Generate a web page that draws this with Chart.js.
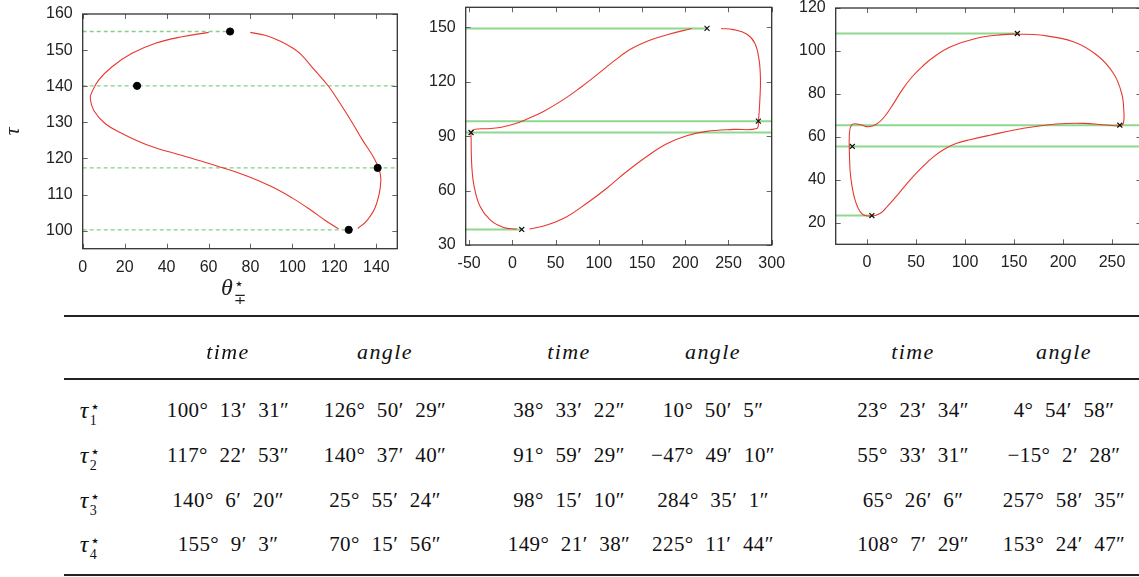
<!DOCTYPE html>
<html>
<head>
<meta charset="utf-8">
<script src="https://cdn.jsdelivr.net/npm/chart.js@4.4.1/dist/chart.umd.min.js"></script>
<style>
  html, body { margin: 0; padding: 0; background: #fff; }
  body { position: relative; width: 1139px; height: 577px; overflow: hidden; }
  canvas { position: absolute; }
  .rule { position: absolute; left: 64px; width: 1075px; height: 2px; background: #222; }
  .cell { position: absolute; transform: translate(-50%, -50%); white-space: nowrap;
          font-family: 'Liberation Serif', 'DejaVu Serif', serif; font-size: 21px; color: #111;
          word-spacing: 6px; letter-spacing: 0.4px; }
  .head { font-style: italic; font-size: 22px; letter-spacing: 1.4px; }
  .tau { font-style: italic; font-size: 24px; }
  .ss { display: inline-block; vertical-align: -7px; line-height: 13px; font-size: 14px; font-style: normal; margin-left: 1px; word-spacing: 0; }
  .ss .st { font-size: 16px; }
  .xlab { position: absolute; left: 221px; top: 274px; font-family: 'Liberation Serif', 'DejaVu Serif', serif; font-style: italic; font-size: 24px; color: #222; }
  .xlab .ss { font-size: 15px; line-height: 15px; vertical-align: -9px; }
</style>
</head>
<body>
<canvas id="plot-a" width="420" height="300" style="left:0;top:0"></canvas>
<canvas id="plot-b" width="390" height="300" style="left:420px;top:0"></canvas>
<canvas id="plot-c" width="370" height="300" style="left:780px;top:0"></canvas>
<div class="xlab">θ<span class="ss"><span class="st">⋆</span><br>∓</span></div>
<div id="table"></div>

<script>
document.addEventListener('DOMContentLoaded', () => {

    if (typeof Chart === 'undefined') {
        console.error('Chart.js not loaded');
        return;
    }

    // ---------- plot A: tau vs theta ----------
    const aTicksX = [0, 20, 40, 60, 80, 100, 120, 140];
    const aTicksY = [100, 110, 120, 130, 140, 150, 160];
    const aMarkX = [126.84, 140.63, 25.92, 70.27];
    const aMarkY = [100.23, 117.38, 140.11, 155.15];
    const aUpperX = [60.1, 47.4, 34.7, 23.5, 14, 7.6, 4.4, 3.6, 5.3, 10.8, 18.8, 31.5, 47.4, 64, 78, 90, 100, 108.5, 115.5, 122];
    const aUpperY = [154.9, 153.7, 151.9, 149.1, 145.4, 141.7, 138.4, 136.6, 133.3, 129.6, 126.9, 123.6, 120.8, 117.9, 115.2, 112.2, 109, 105.8, 102.9, 100.5];
    const aLowerX = [131.2, 135.5, 139.5, 141.9, 141.9, 139, 133.5, 128.4, 123, 117.2, 110.5, 103.7, 99.5, 94, 87, 79.9];
    const aLowerY = [100.6, 102.8, 106.5, 112, 115.7, 120, 125, 130, 135, 140, 144.5, 149, 150.8, 152.5, 154.1, 154.9];

    // ---------- plot B ----------
    const bTicksX = [-50, 0, 50, 100, 150, 200, 250, 300];
    const bTicksY = [30, 60, 90, 120, 150];
    const bMarkX = [10.83, -47.82, 284.58, 225.2];
    const bMarkY = [38.56, 91.99, 98.25, 149.36];
    const bLeftX = [207.5, 180, 156, 136, 117, 98, 78, 59, 36, 17, 3, -14, -30, -43, -47.3, -47.7, -46.9, -44.2, -37.3, -25.7, -10.3, 5];
    const bLeftY = [149.3, 146, 142.3, 137.7, 131.2, 123.9, 116.5, 110.1, 103.6, 99.4, 96.8, 94.8, 94.1, 93.8, 92.4, 88, 73.2, 62.2, 51.2, 43.8, 39.7, 38.8];
    const bRightX = [19.8, 39.8, 62.9, 86.1, 109.2, 132.3, 155.5, 178.6, 201.7, 224.9, 255.7, 282.7, 284.6, 286.3, 287, 285.4, 280.4, 271, 255.7, 241.4];
    const bRightY = [38.8, 41, 45.6, 53, 61.3, 70.5, 78.8, 85.8, 90.2, 92.6, 93.7, 94.2, 98.3, 110.1, 121, 132, 141.3, 146.3, 148.7, 149.3];

    // ---------- plot C ----------
    const cTicksX = [0, 50, 100, 150, 200, 250];
    const cTicksY = [20, 40, 60, 80, 100, 120];
    const cMarkX = [4.92, -15.04, 257.98, 153.41];
    const cMarkY = [23.39, 55.56, 65.44, 108.12];
    const cLoopX = [153.1, 176.5, 210.5, 234.4, 251.4, 259.9, 262.2, 261.6, 258.5, 244.6, 220.7, 193.5, 159.5, 125.5, 105, 91.5, 80, 68, 56, 44, 32, 21, 13.3, 3.1, -5.4, -12.2, -16.7, -18, -18, -16, -12.2, -5.4, 1.4, 9.9, 18, 27, 36, 46, 56, 66, 84.7, 111.9, 139.1, 153.1];
    const cLoopY = [107.9, 107.4, 104.3, 98.1, 89.6, 80.2, 70.9, 66.3, 65.2, 65.5, 66.3, 66, 64, 60.8, 58.7, 57, 54.6, 50.8, 45.8, 40, 33.5, 27.8, 24.3, 23.1, 24.3, 30.6, 41.4, 52.3, 61.6, 65.5, 66.1, 65.5, 64.7, 66, 69.5, 75.5, 82, 88, 92.6, 96.5, 101.8, 105.9, 107.6, 107.9];

    // guide lines reach the marker for tau1 / tau4, whole width for tau2 / tau3
    const guideFull = [false, true, true, false];

    // ---------- table ----------
    const rowSub = ['1', '2', '3', '4'];
    const headers = ['time', 'angle', 'time', 'angle', 'time', 'angle'];
    const columns = [
        ['100° 13′ 31″', '117° 22′ 53″', '140° 6′ 20″', '155° 9′ 3″'],
        ['126° 50′ 29″', '140° 37′ 40″', '25° 55′ 24″', '70° 15′ 56″'],
        ['38° 33′ 22″', '91° 59′ 29″', '98° 15′ 10″', '149° 21′ 38″'],
        ['10° 50′ 5″', '−47° 49′ 10″', '284° 35′ 1″', '225° 11′ 44″'],
        ['23° 23′ 34″', '55° 33′ 31″', '65° 26′ 6″', '108° 7′ 29″'],
        ['4° 54′ 58″', '−15° 2′ 28″', '257° 58′ 35″', '153° 24′ 47″']
    ];

    const RED = '#e8382e';
    const toPts = (xs, ys) => xs.map((x, i) => ({ x: x, y: ys[i] }));

    // frame + inward ticks on all four sides (gnuplot look)
    const framePlugin = {
        id: 'frame',
        afterDatasetsDraw(chart) {
            const { ctx, chartArea: a, scales: { x, y } } = chart;
            ctx.save();
            ctx.strokeStyle = '#666';
            ctx.lineWidth = 1;
            ctx.beginPath();
            x.ticks.forEach(t => {
                const px = Math.round(x.getPixelForValue(t.value)) + 0.5;
                ctx.moveTo(px, a.bottom); ctx.lineTo(px, a.bottom - 5);
                ctx.moveTo(px, a.top); ctx.lineTo(px, a.top + 5);
            });
            y.ticks.forEach(t => {
                const py = Math.round(y.getPixelForValue(t.value)) + 0.5;
                ctx.moveTo(a.left, py); ctx.lineTo(a.left + 5, py);
                ctx.moveTo(a.right, py); ctx.lineTo(a.right - 5, py);
            });
            ctx.stroke();
            ctx.strokeStyle = '#333';
            ctx.lineWidth = 1.3;
            ctx.strokeRect(a.left, a.top, a.right - a.left, a.bottom - a.top);
            ctx.restore();
        }
    };

    function guides(markX, markY, xMin, xMax, color, width, dash) {
        return markY.map((yv, i) => ({
            data: [{ x: xMin, y: yv }, { x: guideFull[i] ? xMax : markX[i], y: yv }],
            showLine: true, borderColor: color, borderWidth: width, borderDash: dash,
            pointRadius: 0, tension: 0, order: 3
        }));
    }

    function curve(xs, ys) {
        return { data: toPts(xs, ys), showLine: true, borderColor: RED, borderWidth: 1.1,
                 pointRadius: 0, tension: 0.4, order: 2 };
    }

    function makeOptions(o) {
        const tickFont = { family: "'Liberation Sans', Arial, sans-serif", size: 16 };
        return {
            responsive: false,
            animation: false,
            events: [],
            layout: { padding: { left: 0, top: o.top, right: o.right, bottom: 0 } },
            plugins: { legend: { display: false }, tooltip: { enabled: false } },
            scales: {
                x: {
                    type: 'linear', min: o.xMin, max: o.xMax,
                    afterBuildTicks: s => { s.ticks = o.xTicks.map(v => ({ value: v })); },
                    afterFit: s => { s.height = o.xH; s.paddingLeft = 0; s.paddingRight = 0; },
                    grid: { display: false, drawTicks: false },
                    border: { display: false },
                    ticks: { padding: 9, color: '#222', font: tickFont, maxRotation: 0, autoSkip: false }
                },
                y: {
                    type: 'linear', min: o.yMin, max: o.yMax,
                    afterBuildTicks: s => { s.ticks = o.yTicks.map(v => ({ value: v })); },
                    afterFit: s => { s.width = o.yW; s.paddingTop = 0; s.paddingBottom = 0; },
                    grid: { display: false, drawTicks: false },
                    border: { display: false },
                    ticks: { padding: 10, color: '#222', font: tickFont, autoSkip: false },
                    title: o.yTitle ? {
                        display: true, text: o.yTitle, color: '#222', padding: { top: 0, bottom: 0 },
                        font: { family: "'Liberation Serif', 'DejaVu Serif', serif", style: 'italic', size: 22 }
                    } : { display: false }
                }
            }
        };
    }

    // ============================================================
    // PLOT A
    // ============================================================
    new Chart(document.getElementById('plot-a').getContext('2d'), {
        type: 'scatter',
        data: {
            datasets: [
                { data: toPts(aMarkX, aMarkY), pointStyle: 'circle', pointRadius: 3.6,
                  backgroundColor: '#000', borderColor: '#000', order: 1 },
                curve(aUpperX, aUpperY),
                curve(aLowerX, aLowerY),
                ...guides(aMarkX, aMarkY, 0, 150, '#86d086', 1.3, [4, 3])
            ]
        },
        options: makeOptions({ xMin: 0, xMax: 150, yMin: 95, yMax: 160, xTicks: aTicksX, yTicks: aTicksY,
                               top: 14, right: 22.7, xH: 51.3, yW: 82.7, yTitle: 'τ' }),
        plugins: [framePlugin]
    });

    // ============================================================
    // PLOT B
    // ============================================================
    new Chart(document.getElementById('plot-b').getContext('2d'), {
        type: 'scatter',
        data: {
            datasets: [
                { data: toPts(bMarkX, bMarkY), pointStyle: 'crossRot', pointRadius: 3.5,
                  borderColor: '#111', borderWidth: 1.2, order: 1 },
                curve(bLeftX, bLeftY),
                curve(bRightX, bRightY),
                ...guides(bMarkX, bMarkY, -54, 300, '#8fd88f', 2, [])
            ]
        },
        options: makeOptions({ xMin: -54, xMax: 300, yMin: 30, yMax: 161, xTicks: bTicksX, yTicks: bTicksY,
                               top: 7.3, right: 38.3, xH: 55, yW: 45.7 }),
        plugins: [framePlugin]
    });

    // ============================================================
    // PLOT C
    // ============================================================
    new Chart(document.getElementById('plot-c').getContext('2d'), {
        type: 'scatter',
        data: {
            datasets: [
                { data: toPts(cMarkX, cMarkY), pointStyle: 'crossRot', pointRadius: 3.5,
                  borderColor: '#111', borderWidth: 1.2, order: 1 },
                curve(cLoopX, cLoopY),
                ...guides(cMarkX, cMarkY, -32, 280, '#8fd88f', 2, [])
            ]
        },
        options: makeOptions({ xMin: -32, xMax: 280, yMin: 10, yMax: 120, xTicks: cTicksX, yTicks: cTicksY,
                               top: 8, right: 8.6, xH: 55.7, yW: 55.7 }),
        plugins: [framePlugin]
    });

    // ============================================================
    // TABLE
    // ============================================================
    const colX = [228, 385, 569, 713, 913, 1064];
    const rowY = [410, 455, 500, 544];
    const table = document.getElementById('table');
    let html = '';
    [315, 378, 574].forEach(t => { html += '<div class="rule" style="top:' + t + 'px"></div>'; });
    headers.forEach((h, c) => {
        html += '<div class="cell head" style="left:' + colX[c] + 'px;top:352px">' + h + '</div>';
    });
    rowSub.forEach((s, r) => {
        html += '<div class="cell" style="left:90px;top:' + (rowY[r] + 2) + 'px"><span class="tau">τ</span>' +
                '<span class="ss"><span class="st">⋆</span><br>' + s + '</span></div>';
        columns.forEach((col, c) => {
            html += '<div class="cell" style="left:' + colX[c] + 'px;top:' + rowY[r] + 'px">' + col[r] + '</div>';
        });
    });
    table.innerHTML = html;
});
</script>
</body>
</html>
